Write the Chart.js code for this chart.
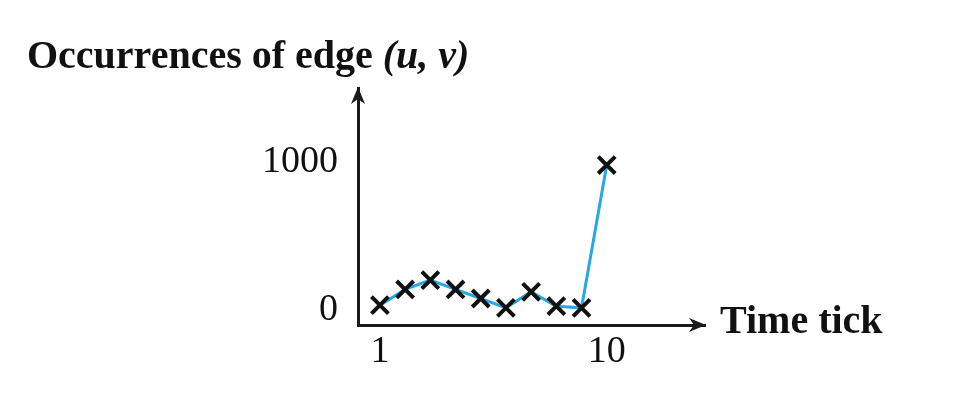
<!DOCTYPE html>
<html>
<head>
<meta charset="utf-8">
<script src="https://cdn.jsdelivr.net/npm/chart.js@4/dist/chart.umd.min.js"></script>
<style>
  body { margin: 0; background: #fff; }
  canvas { display: block; }
</style>
</head>
<body>
<canvas id="canvas" width="957" height="409"></canvas>
<script>
var canvas = document.getElementById("canvas");
var ctx = canvas.getContext("2d");

// data
const timeTicks = [1, 2, 3, 4, 5, 6, 7, 8, 9, 10];
const occurrences = [34, 140, 203, 140, 79, 16, 124, 27, 16, 980];
const yTickValues = [0, 1000];
const xTickValues = [1, 10];
const yTitle = "Occurrences of edge ";
const yTitleItalic = "(u, v)";
const xTitle = "Time tick";

const serif = "'Liberation Serif', 'DejaVu Serif', serif";

function arrowHead(c, x, y, dir) {
    c.save();
    c.translate(x, y);
    c.rotate(dir);
    c.beginPath();
    c.moveTo(0, 0);
    c.lineTo(-17, -7);
    c.lineTo(-12, 0);
    c.lineTo(-17, 7);
    c.closePath();
    c.fillStyle = '#1a1a1a';
    c.fill();
    c.restore();
}

const decor = {
    id: 'decor',
    afterDraw(chart) {
        const c = chart.ctx;
        const a = chart.chartArea;
        arrowHead(c, a.left, a.top - 1, -Math.PI / 2);
        arrowHead(c, a.right + 1, a.bottom, 0);

        c.save();
        c.fillStyle = '#111';
        c.textBaseline = 'alphabetic';
        c.font = "bold 40px " + serif;
        c.fillText(yTitle, 27, 68);
        let w = c.measureText(yTitle).width;
        c.font = "italic bold 40px " + serif;
        c.fillText(yTitleItalic, 27 + w, 68);

        c.font = "bold 40px " + serif;
        c.fillText(xTitle, 720, 333);
        c.restore();
    }
};

const myChart = new Chart(ctx, {
    type: 'line',
    data: {
        labels: timeTicks,
        datasets: [{
            data: timeTicks.map((t, i) => ({ x: t, y: occurrences[i] })),
            borderColor: '#25a9e6',
            borderWidth: 3,
            tension: 0,
            pointStyle: 'crossRot',
            pointRadius: 12,
            pointBorderWidth: 4,
            pointBorderColor: '#111',
            pointBackgroundColor: '#111',
            clip: false
        }]
    },
    options: {
        responsive: false,
        animation: false,
        layout: { padding: { left: 0, top: 88, right: 252, bottom: 0 } },
        plugins: { legend: { display: false }, tooltip: { enabled: false } },
        scales: {
            x: {
                type: 'linear',
                min: 0.13,
                max: 13.9,
                afterFit(s) { s.height = 84; },
                afterBuildTicks(s) { s.ticks = xTickValues.map(v => ({ value: v })); },
                grid: { display: false, drawTicks: false },
                border: { display: true, color: '#1a1a1a', width: 3 },
                ticks: {
                    padding: 4,
                    color: '#111',
                    font: { family: serif, size: 38 },
                    maxRotation: 0,
                    autoSkip: false,
                    callback: v => String(v)
                }
            },
            y: {
                type: 'linear',
                min: -100,
                max: 1500,
                afterFit(s) { s.width = 358; },
                afterBuildTicks(s) { s.ticks = yTickValues.map(v => ({ value: v })); },
                grid: { display: false, drawTicks: false },
                border: { display: true, color: '#1a1a1a', width: 3 },
                ticks: {
                    padding: 20,
                    color: '#111',
                    font: { family: serif, size: 38 },
                    autoSkip: false,
                    callback: v => String(v)
                }
            }
        }
    },
    plugins: [decor]
});
</script>
</body>
</html>
